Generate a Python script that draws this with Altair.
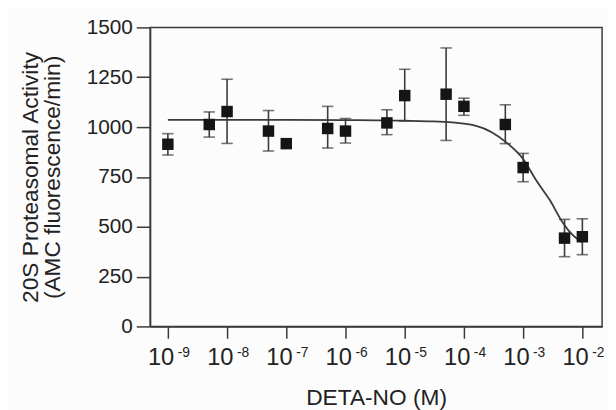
import altair as alt
import pandas as pd

# ---- data ----
conc = [1e-9, 5e-9, 1e-8, 5e-8, 1e-7, 5e-7, 1e-6, 5e-6, 1e-5, 5e-5, 1e-4, 5e-4, 1e-3, 5e-3, 1e-2]
activity = [914, 1013, 1078, 980, 917, 993, 980, 1021, 1158, 1165, 1104, 1013, 797, 443, 450]
err_lo = [860, 950, 918, 880, 917, 895, 920, 962, 1030, 933, 1059, 917, 726, 350, 360]
err_hi = [967, 1076, 1240, 1083, 917, 1104, 1043, 1087, 1290, 1397, 1145, 1112, 868, 537, 540]

curve_exp = [-9, -8, -7, -6, -5, -4.6, -4.33, -3.78, -3.28, -3.0, -2.78, -2.55, -2.33, -2.17, -2.0]
curve_val = [1036, 1036, 1036, 1035, 1032, 1029, 1026, 1005, 922, 840, 733, 634, 520, 460, 422]

tick_exp = [-9, -8, -7, -6, -5, -4, -3, -2]
y_ticks = [0, 250, 500, 750, 1000, 1250, 1500]

x_title = "DETA-NO (M)"
y_title = ["20S Proteasomal Activity", "(AMC fluorescence/min)"]

pts = pd.DataFrame({"conc": conc, "act": activity, "lo": err_lo, "hi": err_hi})
has_err = pts[pts["hi"] > pts["lo"]]
curve = pd.DataFrame({"conc": [10 ** e for e in curve_exp], "act": curve_val})
ticks = pd.DataFrame({"conc": [10 ** e for e in tick_exp],
                      "base": ["10"] * len(tick_exp),
                      "sup": [str(e) for e in tick_exp]})

W, H = 458, 303
FONT = "Liberation Sans"
TXT = "#222222"
LINE = "#3a3a3a"

xs = alt.Scale(type="log", domain=[10 ** -9.3, 10 ** -1.667], nice=False)
ys = alt.Scale(domain=[0, 1500], nice=False)

xenc = alt.X("conc:Q", scale=xs,
             axis=alt.Axis(values=[10 ** e for e in tick_exp], labels=False, grid=False,
                           title=x_title, titleFontSize=23, titleFont=FONT, titleColor=TXT,
                           titleFontWeight="normal", titlePadding=48,
                           tickSize=12, tickColor=LINE, domainColor=LINE,
                           tickWidth=1.5, domainWidth=1.5))
yenc = alt.Y("act:Q", scale=ys,
             axis=alt.Axis(values=y_ticks, format="d", grid=False, title=y_title,
                           titleFontSize=23, titleFont=FONT, titleColor=TXT,
                           titleFontWeight="normal", titlePadding=22, titleLineHeight=22,
                           labelFontSize=21, labelFont=FONT, labelColor=TXT, labelPadding=4,
                           tickSize=14, tickColor=LINE, domainColor=LINE,
                           tickWidth=1.5, domainWidth=1.5))

line = alt.Chart(curve).mark_line(color=LINE, strokeWidth=1.8, interpolate="monotone").encode(x=xenc, y=yenc)

rules = alt.Chart(has_err).mark_rule(color=LINE, strokeWidth=1.6).encode(
    x=alt.X("conc:Q", scale=xs), y=alt.Y("lo:Q", scale=ys), y2="hi:Q")
cap_hi = alt.Chart(has_err).mark_tick(color=LINE, orient="horizontal", size=11.5, thickness=1.6).encode(
    x=alt.X("conc:Q", scale=xs), y=alt.Y("hi:Q", scale=ys))
cap_lo = alt.Chart(has_err).mark_tick(color=LINE, orient="horizontal", size=11.5, thickness=1.6).encode(
    x=alt.X("conc:Q", scale=xs), y=alt.Y("lo:Q", scale=ys))

squares = alt.Chart(pts).mark_square(color="#151515", opacity=1, size=135, filled=True).encode(
    x=alt.X("conc:Q", scale=xs), y=alt.Y("act:Q", scale=ys))

base_lbl = alt.Chart(ticks).mark_text(font=FONT, fontSize=24, color=TXT, align="right",
                                      baseline="alphabetic", dx=6.5).encode(
    x=alt.X("conc:Q", scale=xs), y=alt.value(H + 39), text="base:N")
sup_lbl = alt.Chart(ticks).mark_text(font=FONT, fontSize=14, color=TXT, align="left",
                                     baseline="alphabetic", dx=10).encode(
    x=alt.X("conc:Q", scale=xs), y=alt.value(H + 30.5), text="sup:N")

chart = alt.layer(line, rules, cap_hi, cap_lo, squares, base_lbl, sup_lbl).properties(
    width=W, height=H,
    autosize=alt.AutoSizeParams(type="none"),
    padding={"left": 144, "top": 17, "right": 6, "bottom": 82},
    background="#fcfcfc",
).configure_view(stroke=LINE, strokeWidth=1.5)

chart.save("out.html", embed_options={"renderer": "svg", "actions": False})
